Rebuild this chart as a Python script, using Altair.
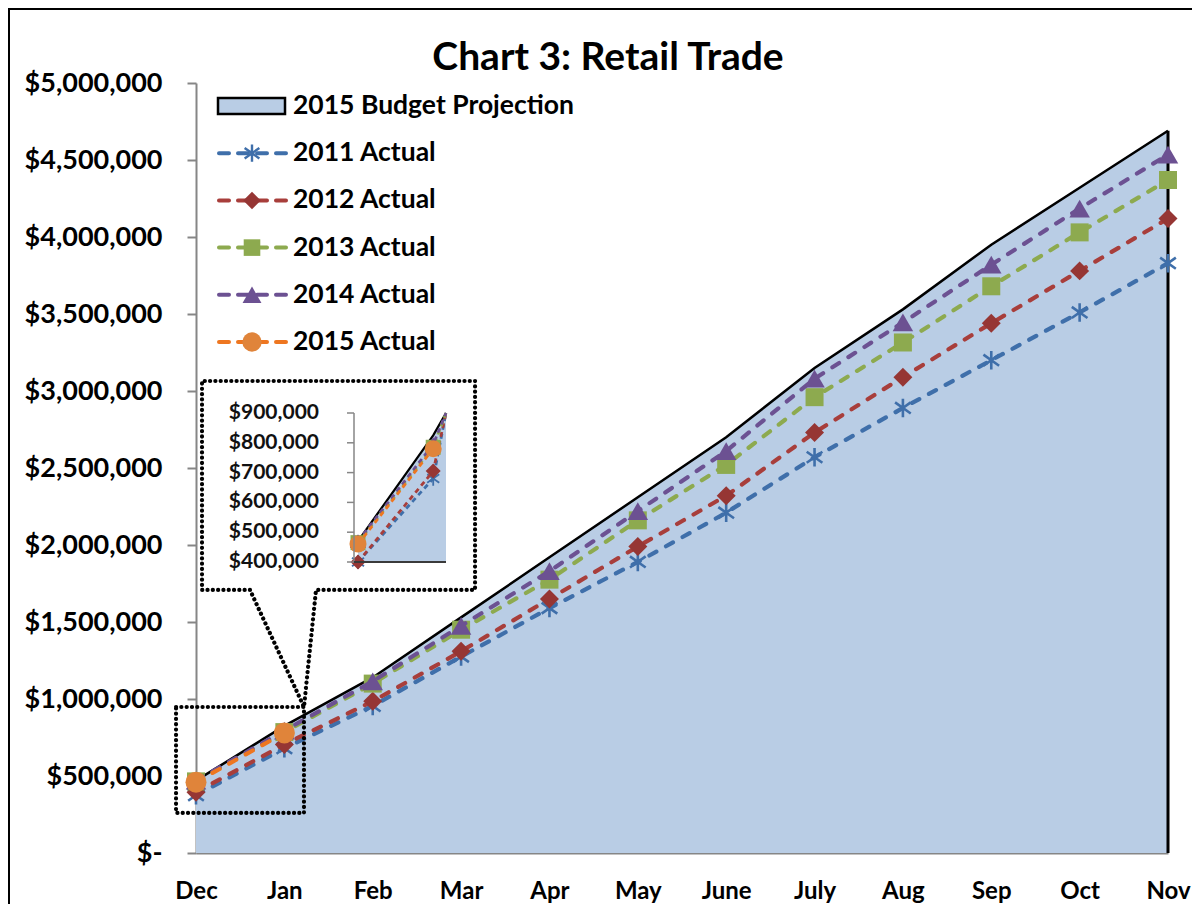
import json
import altair as alt
import pandas as pd

# ---------------- data ----------------
months = ["Dec", "Jan", "Feb", "Mar", "Apr", "May", "June", "July", "Aug", "Sep", "Oct", "Nov"]

budget_name = "2015 Budget Projection"
budget_2015 = [470000, 825000, 1140000, 1530000, 1920000, 2310000, 2700000,
               3150000, 3530000, 3950000, 4320000, 4690000]

actual_2011 = [375000, 680000, 955000, 1275000, 1590000, 1890000, 2210000,
               2570000, 2890000, 3200000, 3510000, 3830000]
actual_2012 = [395000, 705000, 985000, 1310000, 1650000, 1990000, 2320000,
               2730000, 3090000, 3440000, 3780000, 4120000]
actual_2013 = [465000, 785000, 1100000, 1450000, 1775000, 2160000, 2520000,
               2960000, 3315000, 3680000, 4030000, 4370000]
actual_2014 = [470000, 795000, 1115000, 1475000, 1830000, 2220000, 2610000,
               3080000, 3445000, 3820000, 4185000, 4535000]
actual_2015 = [460000, 780000]

series_names = ["2011 Actual", "2012 Actual", "2013 Actual", "2014 Actual", "2015 Actual"]
series_values = [actual_2011, actual_2012, actual_2013, actual_2014, actual_2015]
line_colors = ["#3F6FAA", "#A83E3B", "#8DAA4F", "#6C5192", "#EE7620"]
marker_colors = ["#3F6FAA", "#963634", "#8DAA4F", "#6C5192", "#E0843A"]
STAR = "M0,-1L0,1M-0.85,-0.6L0.85,0.6M-0.85,0.6L0.85,-0.6"
marker_shapes = [STAR, "diamond", "square", "triangle-up", "circle"]
marker_sizes = [340, 360, 324, 420, 441]
inset_marker_sizes = [200, 225, 225, 260, 289]

y_ticks = list(range(0, 5000001, 500000))
inset_ticks = [400000, 500000, 600000, 700000, 800000, 900000]

title_text = "Chart 3: Retail Trade"

# annotation shapes (month index, dollars)
callout_idx = [0.611, 0.068, 0.068, 3.158, 3.158, 1.358, 1.222, 0.611]
callout_val = [1708000, 1708000, 3065000, 3065000, 1708000, 1708000, 948000, 1708000]
zoombox_idx = [-0.226, 1.222, 1.222, -0.226, -0.226]
zoombox_val = [948000, 948000, 260000, 260000, 948000]

# ---------------- styling ----------------
FONT = "Lato"
AREA_FILL = "#B9CDE5"
AXIS_GREY = "#868686"

budget_df = pd.DataFrame({"idx": list(range(len(months))), "month": months, "value": budget_2015})

month_expr = json.dumps(months) + "[datum.value]"

X = alt.X("idx:Q",
          scale=alt.Scale(domain=[0, 11], nice=False, zero=False),
          axis=alt.Axis(values=list(range(12)), labelExpr=month_expr, ticks=False, tickSize=0,
                        domainColor=AXIS_GREY, domainWidth=2, labelFont=FONT,
                        labelFontWeight="bold", labelFontSize=24, labelColor="black",
                        labelPadding=26, grid=False, labelFlush=False, labelOverlap=False,
                        labelBaseline="top"),
          title=None)
Y = alt.Y("value:Q",
          scale=alt.Scale(domain=[0, 5000000], nice=False, zero=True),
          axis=alt.Axis(values=y_ticks,
                        labelExpr="datum.value == 0 ? '$-' : '$' + format(datum.value, ',')",
                        tickColor=AXIS_GREY, tickWidth=2, tickSize=9,
                        domainColor=AXIS_GREY, domainWidth=2, labelFont=FONT,
                        labelFontWeight="bold", labelFontSize=27, labelColor="black",
                        labelPadding=25, grid=False, labelOverlap=False),
          title=None)

main_layers = []
main_layers.append(alt.Chart(budget_df).mark_area(color=AREA_FILL, opacity=1).encode(x=X, y=Y))
main_layers.append(alt.Chart(budget_df).mark_line(color="black", strokeWidth=2.5).encode(x=X, y=Y))
main_layers.append(
    alt.Chart(budget_df).transform_filter("datum.idx == 11")
    .mark_rule(color="black", strokeWidth=3).encode(x=X, y=Y, y2=alt.datum(0))
)

for name, vals, lc, mc, shp, sz in zip(series_names, series_values, line_colors,
                                        marker_colors, marker_shapes, marker_sizes):
    df = pd.DataFrame({"idx": list(range(len(vals))), "value": vals, "series": name})
    main_layers.append(
        alt.Chart(df).mark_line(color=lc, strokeWidth=4.2, strokeDash=[8, 11], strokeCap="round")
        .encode(x=X, y=Y)
    )
    if shp == STAR:
        pt = alt.Chart(df).mark_point(shape=shp, filled=False, size=sz, color=mc,
                                      strokeWidth=2.6, opacity=1)
    else:
        pt = alt.Chart(df).mark_point(shape=shp, filled=True, size=sz, color=mc, opacity=1)
    main_layers.append(pt.encode(x=X, y=Y))

# callout & zoom box (dotted)
callout_df = pd.DataFrame({"idx": callout_idx, "value": callout_val, "o": list(range(len(callout_idx)))})
zoombox_df = pd.DataFrame({"idx": zoombox_idx, "value": zoombox_val, "o": list(range(len(zoombox_idx)))})
for d in (callout_df, zoombox_df):
    main_layers.append(
        alt.Chart(d).mark_line(color="black", strokeWidth=4.2, strokeDash=[0.1, 5.2],
                               strokeCap="round", strokeJoin="round")
        .encode(x=X, y=Y, order="o:Q")
    )

main = alt.layer(*main_layers)

# ---------------- inset ----------------
IX = alt.X("idx:Q", scale=alt.Scale(domain=[0, 1.17], range=[162, 250], clamp=True,
                                    nice=False, zero=False), axis=None, title=None)
IY = alt.Y("value:Q", scale=alt.Scale(domain=[400000, 900000], range=[479, 330], clamp=True,
                                      nice=False, zero=False), axis=None, title=None)

inset_layers = []
ib = budget_df.iloc[:3]
inset_layers.append(alt.Chart(ib).mark_area(color=AREA_FILL, opacity=1)
                    .encode(x=IX, y=IY, y2=alt.Y2("base:Q"))
                    .transform_calculate(base="400000"))
inset_layers.append(alt.Chart(ib).mark_line(color="black", strokeWidth=2.2).encode(x=IX, y=IY))
for name, vals, lc, mc, shp, sz in zip(series_names, series_values, line_colors,
                                        marker_colors, marker_shapes, inset_marker_sizes):
    n = min(3, len(vals))
    df = pd.DataFrame({"idx": list(range(n)), "value": vals[:n]})
    inset_layers.append(
        alt.Chart(df).mark_line(color=lc, strokeWidth=2.8, strokeDash=[5, 4]).encode(x=IX, y=IY)
    )
    dp = df.iloc[:2]
    if shp == STAR:
        pt = alt.Chart(dp).mark_point(shape=shp, filled=False, size=sz, color=mc,
                                      strokeWidth=1.8, opacity=1)
    else:
        pt = alt.Chart(dp).mark_point(shape=shp, filled=True, size=sz, color=mc, opacity=1)
    inset_layers.append(pt.encode(x=IX, y=IY))

tick_df = pd.DataFrame({"value": inset_ticks})
inset_layers.append(alt.Chart(tick_df).mark_rule(color=AXIS_GREY, strokeWidth=1.5)
                    .encode(x=alt.value(151), x2=alt.value(158), y=IY))
axis_df = pd.DataFrame({"value": [inset_ticks[0]], "v2": [inset_ticks[-1]]})
inset_layers.append(alt.Chart(axis_df).mark_rule(color=AXIS_GREY, strokeWidth=1.5)
                    .encode(x=alt.value(158), y=IY, y2=alt.Y2("v2:Q")))
inset_layers.append(alt.Chart(axis_df).mark_rule(color="#3A3A3A", strokeWidth=2)
                    .encode(x=alt.value(158), x2=alt.value(250), y=IY))
inset_layers.append(
    alt.Chart(tick_df).transform_calculate(lbl="'$' + format(datum.value, ',')")
    .mark_text(align="right", baseline="middle", font=FONT, fontWeight="bold",
               fontSize=21, color="#111111")
    .encode(x=alt.value(123), y=IY, text="lbl:N")
)
inset = alt.layer(*inset_layers)

# ---------------- legend ----------------
legend_layers = []
legend_y0, legend_dy = 23, 47.2
legend_layers.append(
    alt.Chart(pd.DataFrame({"label": [budget_name]})).mark_rect(
        fill=AREA_FILL, stroke="black", strokeWidth=2.5)
    .encode(x=alt.value(22), x2=alt.value(89), y=alt.value(legend_y0 - 8), y2=alt.value(legend_y0 + 8))
)
legend_layers.append(
    alt.Chart(pd.DataFrame({"label": [budget_name]})).mark_text(
        align="left", baseline="middle", font=FONT, fontWeight="bold", fontSize=26.5, color="black")
    .encode(x=alt.value(97), y=alt.value(legend_y0), text="label:N")
)
for i, (name, lc, mc, shp, sz) in enumerate(zip(series_names, line_colors, marker_colors,
                                                marker_shapes, marker_sizes)):
    ly = legend_y0 + legend_dy * (i + 1)
    ldf = pd.DataFrame({"label": [name]})
    legend_layers.append(
        alt.Chart(ldf).mark_rule(color=lc, strokeWidth=4, strokeDash=[10, 9], strokeCap="round")
        .encode(x=alt.value(23), x2=alt.value(91), y=alt.value(ly))
    )
    if shp == STAR:
        lp = alt.Chart(ldf).mark_point(shape=shp, filled=False, size=300, color=mc,
                                       strokeWidth=2.4, opacity=1)
    else:
        lp = alt.Chart(ldf).mark_point(shape=shp, filled=True, size=sz * 0.85, color=mc, opacity=1)
    legend_layers.append(lp.encode(x=alt.value(56), y=alt.value(ly)))
    legend_layers.append(
        alt.Chart(ldf).mark_text(align="left", baseline="middle", font=FONT, fontWeight="bold",
                                 fontSize=26.5, color="black")
        .encode(x=alt.value(97), y=alt.value(ly), text="label:N")
    )

# ---------------- title & frame ----------------
deco = [
    alt.Chart(pd.DataFrame({"t": [title_text]})).mark_text(
        align="center", baseline="alphabetic", font=FONT, fontWeight="bold", fontSize=39, color="black")
    .encode(x=alt.value(412), y=alt.value(-13), text="t:N"),
    alt.Chart(pd.DataFrame({"t": [title_text]})).mark_rect(
        fill="white", fillOpacity=0, stroke="black", strokeWidth=2)
    .encode(x=alt.value(-187), x2=alt.value(1100), y=alt.value(-74), y2=alt.value(900)),
]

chart = (
    alt.layer(main, inset, *legend_layers, *deco)
    .resolve_scale(x="independent", y="independent")
    .properties(width=972, height=770,
                padding={"left": 188, "top": 75, "right": 24, "bottom": 51},
                autosize=alt.AutoSizeParams(type="none"),
                background="white")
    .configure_view(stroke=None)
)

chart.save("out.html", embed_options={"renderer": "svg", "actions": False})
